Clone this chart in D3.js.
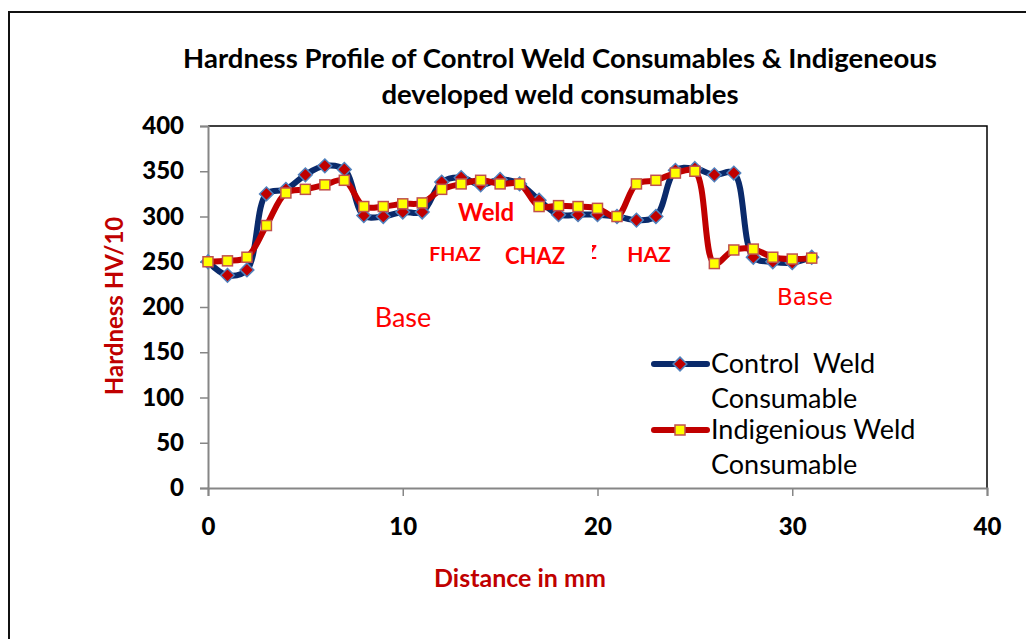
<!DOCTYPE html>
<html>
<head>
<meta charset="utf-8">
<script src="https://cdn.jsdelivr.net/npm/d3@7"></script>
<style>
  body { margin: 0; background: #fff; }
  svg { display: block; }
</style>
</head>
<body>
<div id="chart"></div>
<script>
// distance along the weld (mm) and hardness readings (HV/10)
const distance = [0,1,2,3,4,5,6,7,8,9,10,11,12,13,14,15,16,17,18,19,20,21,22,23,24,25,26,27,28,29,30,31];
const controlWeld = [250,235,241,325,330,346,356,352,301,300,305,305,338,343,335,341,336,318,302,302,302,300,296,300,351,353,346,348,255,250,249,255];
const indigeniousWeld = [250,251,255,290,326,330,335,340,311,311,314,315,330,336,340,336,336,311,312,311,309,300,336,340,348,350,248,263,264,255,253,254];
const xTicks = [0,10,20,30,40];
const yTicks = [0,50,100,150,200,250,300,350,400];

const W = 1026, H = 639;
const plot = {left: 208, right: 987, top: 126, bottom: 488};
const font = "Lato, 'Open Sans', sans-serif";

const svg = d3.select("#chart").append("svg")
  .attr("width", W).attr("height", H);

// outer chart border
svg.append("path")
  .attr("d", `M9,${H + 5}V12H${W + 5}`)
  .attr("fill", "none").attr("stroke", "#111").attr("stroke-width", 2);

const x = d3.scaleLinear().domain([0, 40]).range([plot.left, plot.right]);
const y = d3.scaleLinear().domain([0, 400]).range([plot.bottom, plot.top]);

// title
const title = svg.append("text")
  .attr("text-anchor", "middle")
  .attr("font-family", font).attr("font-weight", "bold").attr("font-size", 27.5)
  .attr("fill", "#000");
title.append("tspan").attr("x", 560).attr("y", 68)
  .text("Hardness Profile of Control Weld Consumables & Indigeneous");
title.append("tspan").attr("x", 560).attr("y", 104)
  .text("developed weld consumables");

// frame top / right
svg.append("path")
  .attr("d", `M${plot.left},${plot.top}H${plot.right}V${plot.bottom}`)
  .attr("fill", "none").attr("stroke", "#000").attr("stroke-width", 1.5);

// y axis
const yAxis = svg.append("g")
  .attr("transform", `translate(${plot.left},0)`)
  .call(d3.axisLeft(y).tickValues(yTicks).tickSize(8).tickPadding(16));
yAxis.select(".domain").attr("stroke", "#868686").attr("stroke-width", 2);
yAxis.selectAll(".tick line").attr("stroke", "#868686").attr("stroke-width", 1.5);
yAxis.selectAll("text")
  .attr("font-family", font).attr("font-weight", 900).attr("font-size", 24)
  .attr("fill", "#000");

// x axis
const xAxis = svg.append("g")
  .attr("transform", `translate(0,${plot.bottom})`)
  .call(d3.axisBottom(x).tickValues(xTicks).tickSize(8).tickPadding(22));
xAxis.select(".domain").attr("stroke", "#868686").attr("stroke-width", 2);
xAxis.selectAll(".tick line").attr("stroke", "#868686").attr("stroke-width", 1.5);
xAxis.selectAll("text")
  .attr("font-family", font).attr("font-weight", 900).attr("font-size", 24)
  .attr("fill", "#000");

// axis titles
svg.append("text")
  .attr("transform", "translate(123,306) rotate(-90)")
  .attr("text-anchor", "middle")
  .attr("font-family", font).attr("font-weight", "bold").attr("font-size", 24)
  .attr("fill", "#c00000")
  .text("Hardness HV/10");

svg.append("text")
  .attr("x", 520).attr("y", 587)
  .attr("text-anchor", "middle")
  .attr("font-family", font).attr("font-weight", "bold").attr("font-size", 25)
  .attr("fill", "#c00000")
  .text("Distance in mm");

// zone labels
const labels = [
  {t: "Weld", x: 486, y: 221, size: 24, bold: true},
  {t: "FHAZ", x: 455, y: 261, size: 19.5, bold: true},
  {t: "CHAZ", x: 535, y: 264, size: 22, bold: true},
  {t: "HAZ", x: 649, y: 262, size: 21, bold: true},
  {t: "Base", x: 403, y: 327, size: 27, bold: false},
  {t: "Base", x: 805, y: 305, size: 23, bold: false, family: "'DejaVu Sans', sans-serif"}
];
svg.selectAll(".zone").data(labels).join("text")
  .attr("class", "zone")
  .attr("x", d => d.x).attr("y", d => d.y)
  .attr("text-anchor", "middle")
  .attr("font-family", d => d.family || font)
  .attr("font-weight", d => d.bold ? "bold" : "normal")
  .attr("font-size", d => d.size)
  .attr("fill", "#ff0000")
  .text(d => d.t);

// clipped fragment of a hidden label
svg.append("clipPath").attr("id", "clipz")
  .append("rect").attr("x", 592).attr("y", 240).attr("width", 7).attr("height", 22);
svg.append("text")
  .attr("x", 586).attr("y", 259)
  .attr("clip-path", "url(#clipz)")
  .attr("font-family", font).attr("font-weight", "bold").attr("font-size", 18)
  .attr("fill", "#ff0000")
  .text("Z");

// series
const line = d3.line()
  .x(d => x(d[0])).y(d => y(d[1]))
  .curve(d3.curveCatmullRom.alpha(0.5));

const controlPts = distance.map((d, i) => [d, controlWeld[i]]);
const indigPts = distance.map((d, i) => [d, indigeniousWeld[i]]);

svg.append("path")
  .attr("d", line(controlPts))
  .attr("fill", "none").attr("stroke", "#0a2a6b").attr("stroke-width", 6)
  .attr("stroke-linejoin", "round").attr("stroke-linecap", "round");

const diamond = d3.symbol().type(d3.symbolDiamond2).size(120);
svg.selectAll(".cw").data(controlPts).join("path")
  .attr("class", "cw")
  .attr("d", diamond)
  .attr("transform", d => `translate(${x(d[0])},${y(d[1])})`)
  .attr("fill", "#c00000").attr("stroke", "#4f81bd").attr("stroke-width", 1.5);

svg.append("path")
  .attr("d", line(indigPts))
  .attr("fill", "none").attr("stroke", "#c00000").attr("stroke-width", 6)
  .attr("stroke-linejoin", "round").attr("stroke-linecap", "round");

svg.selectAll(".iw").data(indigPts).join("rect")
  .attr("class", "iw")
  .attr("x", d => x(d[0]) - 5).attr("y", d => y(d[1]) - 5)
  .attr("width", 10).attr("height", 10)
  .attr("fill", "#ffff00").attr("stroke", "#c0504d").attr("stroke-width", 1.5);

// legend
const legend = [
  {name: ["Control\u00a0 Weld", "Consumable"], y: 364, color: "#0a2a6b", marker: "diamond"},
  {name: ["Indigenious Weld", "Consumable"], y: 430, color: "#c00000", marker: "square"}
];
const lg = svg.selectAll(".lg").data(legend).join("g").attr("class", "lg");
lg.append("line")
  .attr("x1", 654).attr("x2", 707)
  .attr("y1", d => d.y).attr("y2", d => d.y)
  .attr("stroke", d => d.color).attr("stroke-width", 6).attr("stroke-linecap", "round");
lg.filter(d => d.marker === "diamond").append("path")
  .attr("d", diamond)
  .attr("transform", d => `translate(680,${d.y})`)
  .attr("fill", "#c00000").attr("stroke", "#4f81bd").attr("stroke-width", 1.5);
lg.filter(d => d.marker === "square").append("rect")
  .attr("x", 675).attr("y", d => d.y - 5).attr("width", 10).attr("height", 10)
  .attr("fill", "#ffff00").attr("stroke", "#c0504d").attr("stroke-width", 1.5);
const lt = lg.append("text")
  .attr("font-family", font).attr("font-size", 27).attr("fill", "#000");
lt.append("tspan").attr("x", 711).attr("y", d => d.y + 9).text(d => d.name[0]);
lt.append("tspan").attr("x", 711).attr("y", d => d.y + 44).text(d => d.name[1]);
</script>
</body>
</html>
